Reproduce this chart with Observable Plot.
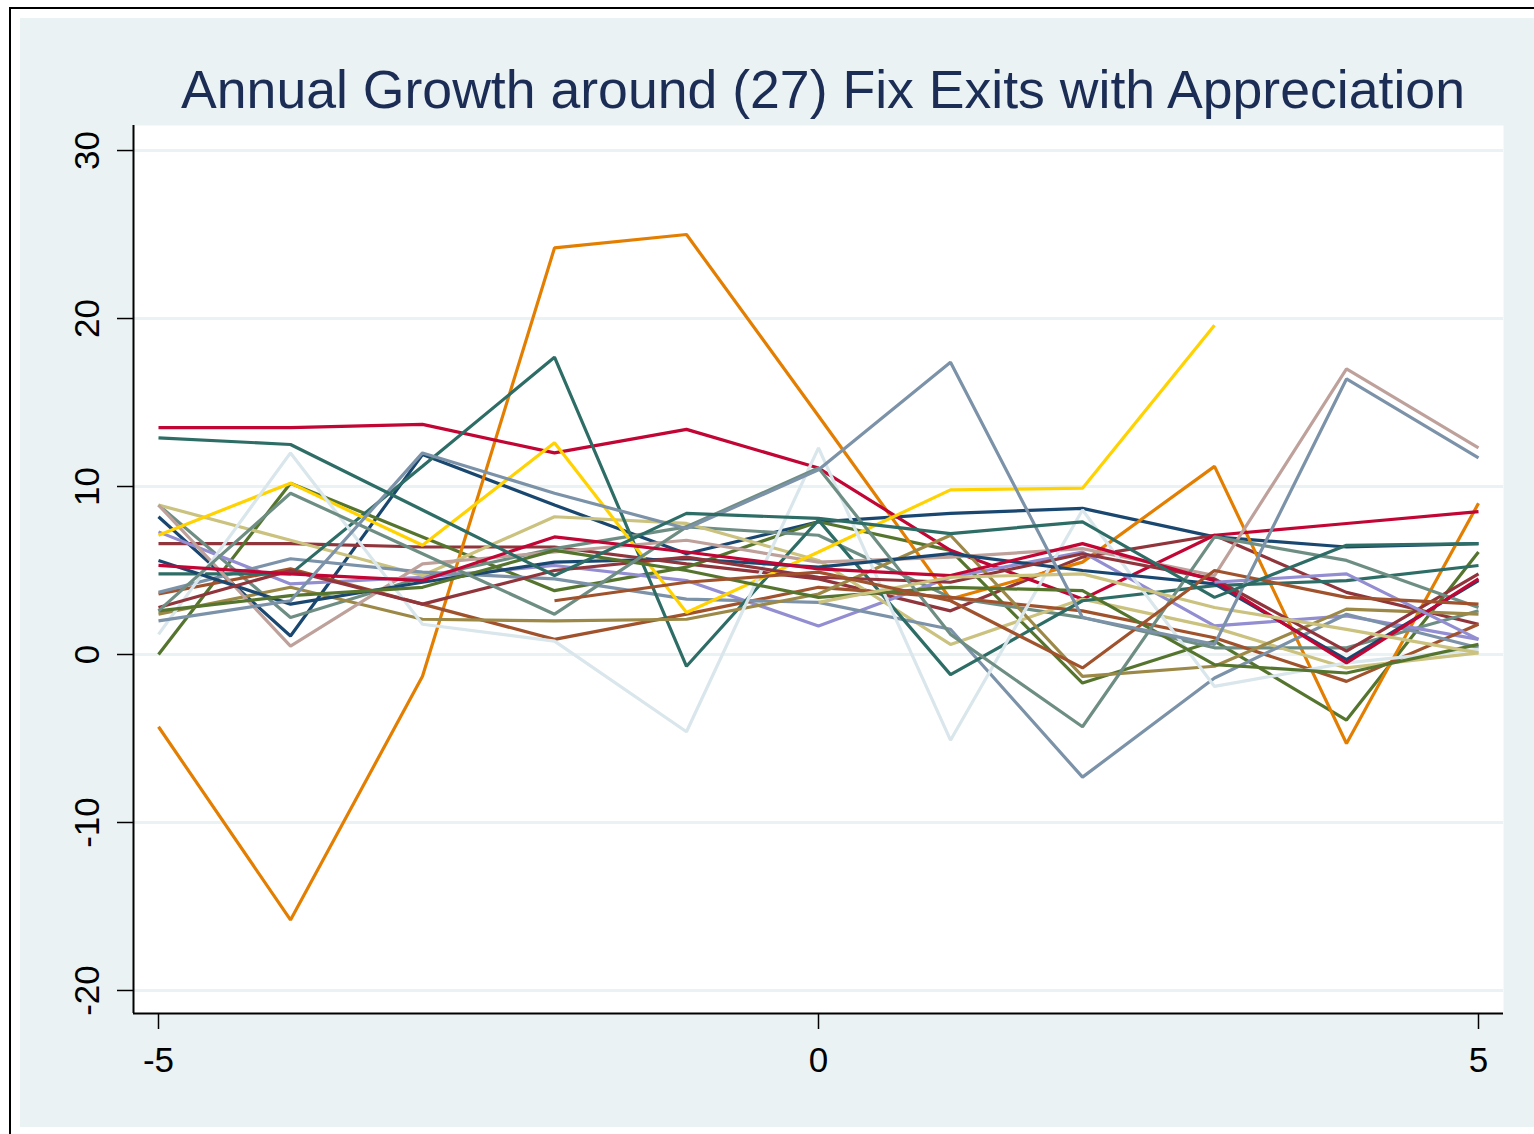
<!DOCTYPE html>
<html>
<head>
<meta charset="utf-8">
<script src="https://cdn.jsdelivr.net/npm/d3@7"></script>
<script src="https://cdn.jsdelivr.net/npm/@observablehq/plot@0.6"></script>
<style>
  html, body { margin: 0; padding: 0; background: #ffffff; overflow: hidden; width: 1534px; height: 1134px; }
  #border { position: absolute; left: 9px; top: 7px; width: 1600px; height: 1300px; border: 2px solid #000; box-sizing: border-box; }
  #panel { position: absolute; left: 20px; top: 18px; width: 1514px; height: 1109px; background: #eaf2f3; }
  #title { position: absolute; left: 0; top: 45px; width: 1606px; text-align: center; font-family: "Liberation Sans", Arial, sans-serif; font-size: 53.6px; line-height: 53px; color: #1c2d55; white-space: nowrap; }
  #chart { position: absolute; left: 0; top: 102px; }
</style>
</head>
<body>
<div id="border"></div>
<div id="panel">
  <div id="title">Annual Growth around (27) Fix Exits with Appreciation</div>
  <div id="chart"></div>
</div>
<script>
// Event time (years around the fix exit)
const years = [-5, -4, -3, -2, -1, 0, 1, 2, 3, 4, 5];
const xTicks = [-5, 0, 5];
const yTicks = [-20, -10, 0, 10, 20, 30];

// Series (Stata s2color order), annual growth in %
const navyA      = [8.2, 1.1, 11.9, 8.9, 6.0, 7.9, 8.4, 8.7, 7.0, 6.4, 6.6];
const maroonA    = [6.6, 6.6, 6.4, 6.4, 5.4, 4.5, 2.6, 5.8, 7.1, 3.7, 1.8];
const forestA    = [0.0, 10.2, 7.0, 3.8, 5.2, 7.9, 6.2, -1.7, 0.8, -3.9, 6.1];
const orangeA    = [-4.3, -15.8, -1.3, 24.2, 25.0, 14.2, 3.3, 5.5, 11.2, -5.3, 9.0];
const tealA      = [8.9, 2.2, 4.6, 6.3, 7.6, 7.1, 3.4, 2.2, 0.4, 0.4, 2.6];
const cranberryA = [13.5, 13.5, 13.7, 12.0, 13.4, 11.1, 6.2, 3.3, 7.1, 7.8, 8.5];
const lavenderA  = [7.3, 4.2, 4.6, 5.3, 4.4, 1.7, 4.6, 6.1, 1.7, 2.3, 0.9];
const khakiA     = [8.9, 6.8, 4.7, 8.2, 7.8, 5.6, 0.6, 3.3, 1.6, -0.8, 0.1];
const siennaA    = [3.6, 5.1, 3.0, 0.9, 2.4, 4.0, 3.4, 2.6, 1.0, -1.6, 1.8];
const emidblueA  = [3.7, 5.7, 4.9, 4.5, 3.3, 3.1, 1.5, -7.3, -1.4, 2.4, 0.4];
const emeraldA   = [4.8, 4.8, 11.2, 17.7, -0.7, 8.0, -1.2, 3.2, 4.1, 4.4, 5.3];
const brownA     = [2.4, 4.0, 2.1, 2.0, 2.1, 3.6, 7.1, -1.3, -0.7, 2.7, 2.4];
const erose      = [8.9, 0.5, 5.4, 6.1, 6.8, 5.5, 5.8, 6.3, 4.7, 17.0, 12.3];
const gold       = [7.1, 10.2, 6.5, 12.6, 2.5, 6.1, 9.8, 9.9, 19.6, null, null];
const bluishgray = [1.2, 12.0, 1.8, 0.8, -4.6, 12.3, -5.1, 8.6, -1.9, -0.5, 0.3];
const navyB      = [5.6, 3.0, 4.3, 5.5, 5.7, 5.2, 6.0, 5.0, 4.2, -0.3, 4.4];
const maroonB    = [2.8, 5.0, 3.0, 5.0, 5.8, 4.6, 4.3, 6.0, 4.5, 0.2, 4.8];
const forestB    = [2.6, 3.5, 4.0, 6.2, 5.0, 3.4, 4.0, 3.8, -0.6, -1.1, 0.6];
const tealB      = [2.6, 9.6, 6.0, 2.4, 7.6, 11.1, 1.2, -4.3, 7.0, 5.6, 2.8];
const cranberryB = [5.3, 4.8, 4.4, 7.0, 6.1, 5.1, 4.7, 6.6, 4.4, -0.5, 4.5];
const lavenderB  = [null, null, null, null, null, null, null, null, 4.3, 4.8, 0.9];
const khakiB     = [null, null, null, null, null, 3.1, 4.6, 4.8, 2.8, 1.5, 0.1];
const siennaB    = [null, null, null, 3.2, 4.3, 4.9, 3.2, -0.8, 5.0, 3.4, 3.0];
const emidblueB  = [2.0, 3.2, 12.0, 9.6, 7.5, 11.0, 17.4, 2.2, 0.6, 16.4, 11.7];
const emeraldB   = [12.9, 12.5, 8.6, 4.7, 8.4, 8.1, 7.2, 7.9, 3.4, 6.5, 6.6];

const seriesList = [
  [navyA, "#1a476f"], [maroonA, "#90353b"], [forestA, "#55752f"], [orangeA, "#e37e00"],
  [tealA, "#6e8e84"], [cranberryA, "#c10534"], [lavenderA, "#938dd2"], [khakiA, "#cac27e"],
  [siennaA, "#a0522d"], [emidblueA, "#7b92a8"], [emeraldA, "#2d6d66"], [brownA, "#9c8847"],
  [erose, "#bfa19c"], [gold, "#ffd200"], [bluishgray, "#d9e6eb"],
  [navyB, "#1a476f"], [maroonB, "#90353b"], [forestB, "#55752f"], [tealB, "#6e8e84"],
  [cranberryB, "#c10534"], [lavenderB, "#938dd2"], [khakiB, "#cac27e"], [siennaB, "#a0522d"],
  [emidblueB, "#7b92a8"], [emeraldB, "#2d6d66"]
];

const xDomain = [-5 - 25 / 132, 5 + 25 / 132];
const yDomain = [-21.37, 31.49];

const lineMarks = seriesList.map(([vals, color]) => {
  const pts = years.map((x, i) => ({x, y: vals[i]})).filter(d => d.y != null);
  return Plot.line(pts, {x: "x", y: "y", stroke: color, strokeWidth: 3.2, strokeLinejoin: "miter", strokeLinecap: "butt"});
});

const chart = Plot.plot({
  width: 1514,
  height: 1007,
  marginLeft: 113,
  marginRight: 31,
  marginTop: 5,
  marginBottom: 114,
  style: {background: "transparent", fontFamily: "'Liberation Sans', Arial, sans-serif", overflow: "visible"},
  x: {domain: xDomain, label: null},
  y: {domain: yDomain, label: null},
  marks: [
    Plot.frame({fill: "white", stroke: null}),
    Plot.gridY(yTicks, {stroke: "#eaf2f3", strokeOpacity: 1, strokeWidth: 3}),
    ...lineMarks,
    Plot.ruleX([xDomain[0]], {stroke: "black", strokeWidth: 2}),
    Plot.ruleY([yDomain[0]], {stroke: "black", strokeWidth: 2}),
    Plot.axisX(xTicks, {label: null, tickSize: 16, tickPadding: 18, fontSize: 35, strokeWidth: 1.5, stroke: "black", fill: "black", tickFormat: d => d}),
    Plot.axisY(yTicks, {label: null, tickSize: 16, strokeWidth: 1.5, stroke: "black", tickFormat: () => ""}),
    Plot.text(yTicks, {y: d => d, text: d => String(d), frameAnchor: "left", dx: -46, rotate: -90, textAnchor: "middle", lineAnchor: "middle", fontSize: 35, fill: "black"})
  ]
});
document.getElementById("chart").appendChild(chart);
</script>
</body>
</html>
